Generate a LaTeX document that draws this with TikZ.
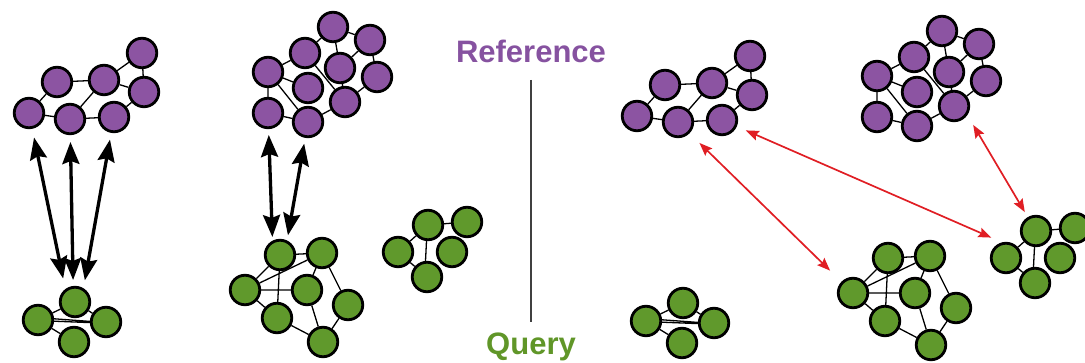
\documentclass[tikz,border=0pt]{standalone}
\usepackage{fontspec}
\setmainfont{Liberation Sans}
\usetikzlibrary{arrows.meta}

\definecolor{grape}{RGB}{140,84,162}
\definecolor{leaf}{RGB}{96,153,44}
\definecolor{titlepurple}{RGB}{134,82,160}
\definecolor{titlegreen}{RGB}{96,150,40}
\definecolor{linkred}{RGB}{224,30,36}

\tikzset{
  atom/.style={circle, draw=black, line width=2.8pt, minimum size=29.5pt, inner sep=0pt},
  refatom/.style={atom, fill=grape},
  qryatom/.style={atom, fill=leaf},
  bond/.style={line width=1.3pt, black},
  matchlink/.style={line width=3.3pt, black,
    {Stealth[length=22pt,width=17pt,inset=3pt]}-{Stealth[length=22pt,width=17pt,inset=3pt]}},
  pairlink/.style={line width=1.7pt, linkred,
    {Stealth[length=13pt,width=10pt,inset=2pt]}-{Stealth[length=13pt,width=10pt,inset=2pt]}},
  divider/.style={line width=1.3pt, black!75},
  heading/.style={font=\bfseries\fontsize{31}{31}\selectfont, inner sep=0pt, anchor=base},
}

% seven-atom purple molecule
\newcommand\purpleA[2]{%
  \begin{scope}[shift={#2}]
    \node[refatom] (#1a1) at (29,113) {};
    \node[refatom] (#1a2) at (70,119) {};
    \node[refatom] (#1a3) at (114,117) {};
    \node[refatom] (#1a4) at (57,82) {};
    \node[refatom] (#1a5) at (104,80) {};
    \node[refatom] (#1a6) at (142,53) {};
    \node[refatom] (#1a7) at (144,92) {};
  \end{scope}
  \draw[bond] (#1a1) -- (#1a4) (#1a1) -- (#1a2) (#1a2) -- (#1a3)
              (#1a4) -- (#1a5) (#1a2) -- (#1a5) (#1a5) -- (#1a6)
              (#1a5) -- (#1a7) (#1a3) -- (#1a7) (#1a6) -- (#1a7);
}

% ten-atom purple molecule
\newcommand\purpleB[2]{%
  \begin{scope}[shift={#2}]
    \node[refatom] (#1b1) at (333,27) {};
    \node[refatom] (#1b2) at (370,40) {};
    \node[refatom] (#1b3) at (305,53) {};
    \node[refatom] (#1b4) at (340,68) {};
    \node[refatom] (#1b5) at (377,77) {};
    \node[refatom] (#1b6) at (268,72) {};
    \node[refatom] (#1b7) at (308,88) {};
    \node[refatom] (#1b8) at (345,102) {};
    \node[refatom] (#1b9) at (268,113) {};
    \node[refatom] (#1b10) at (308,122) {};
  \end{scope}
  \draw[bond] (#1b1) -- (#1b2) (#1b1) -- (#1b3) (#1b1) -- (#1b4)
              (#1b2) -- (#1b4) (#1b2) -- (#1b5) (#1b3) -- (#1b6)
              (#1b3) -- (#1b8) (#1b6) -- (#1b7) (#1b6) -- (#1b9)
              (#1b6) -- (#1b10) (#1b9) -- (#1b10) (#1b10) -- (#1b8)
              (#1b4) -- (#1b8) (#1b5) -- (#1b8);
}

% four-atom green molecule
\newcommand\greenA[2]{%
  \begin{scope}[shift={#2}]
    \node[qryatom] (#1c1) at (75,302) {};
    \node[qryatom] (#1c2) at (38,320) {};
    \node[qryatom] (#1c3) at (106,322) {};
    \node[qryatom] (#1c4) at (74,342) {};
  \end{scope}
  \draw[bond] (#1c1) -- (#1c2) (#1c1) -- (#1c3) (#1c2) -- (#1c4)
              ([yshift=1.2pt]#1c2.east) -- ([yshift=0.6pt]#1c3.west)
              ([yshift=-1.2pt]#1c2.east) -- ([yshift=-0.6pt]#1c3.west);
}

% seven-atom green molecule
\newcommand\greenB[2]{%
  \begin{scope}[shift={#2}]
    \node[qryatom] (#1d1) at (280,255) {};
    \node[qryatom] (#1d2) at (322,253) {};
    \node[qryatom] (#1d3) at (245,290) {};
    \node[qryatom] (#1d4) at (307,290) {};
    \node[qryatom] (#1d5) at (348,305) {};
    \node[qryatom] (#1d6) at (277,318) {};
    \node[qryatom] (#1d7) at (323,342) {};
  \end{scope}
  \draw[bond] (#1d1) -- (#1d2) (#1d1) -- (#1d3) (#1d3) -- (#1d2)
              (#1d1) -- (#1d6) (#1d3) -- (#1d4) (#1d3) -- (#1d6)
              (#1d2) -- (#1d4) (#1d2) -- (#1d5) (#1d6) -- (#1d7)
              (#1d4) -- (#1d7) (#1d5) -- (#1d7);
}

% five-atom green molecule
\newcommand\greenC[2]{%
  \begin{scope}[shift={#2}]
    \node[qryatom] (#1e1) at (428,225) {};
    \node[qryatom] (#1e2) at (467,222) {};
    \node[qryatom] (#1e3) at (398,252) {};
    \node[qryatom] (#1e4) at (452,252) {};
    \node[qryatom] (#1e5) at (427,277) {};
  \end{scope}
  \draw[bond] (#1e1) -- (#1e2) (#1e3) -- (#1e1) (#1e3) -- (#1e5)
              ([xshift=-1.5pt]#1e1.south) -- ([xshift=-1.5pt]#1e5.north);
}

\begin{document}
\begin{tikzpicture}[x=1pt, y=-1pt]
  \useasboundingbox (0,0) rectangle (1085,363);

  % left panel
  \purpleA{L}{(0,0)}
  \purpleB{L}{(0,0)}
  \greenA{L}{(0,0)}
  \greenB{L}{(0,0)}
  \greenC{L}{(0,0)}

  % right panel
  \purpleA{R}{(608,3)}
  \purpleB{R}{(609,4)}
  \greenA{R}{(608,1)}
  \greenB{R}{(608,3)}
  \greenC{R}{(608,6)}

  % direct matches in the left panel
  \draw[matchlink, shorten <=25pt, shorten >=24pt] (La1.center) -- ([xshift=-7pt]Lc1.center);
  \draw[matchlink, shorten <=23pt, shorten >=22pt] (La2.center) -- ([xshift=-1.5pt]Lc1.center);
  \draw[matchlink, shorten <=23pt, shorten >=22pt] (La3.center) -- ([xshift=6pt]Lc1.center);
  \draw[matchlink, shorten <=22pt, shorten >=18pt] (Lb9.center) -- ([xshift=-7pt]Ld1.center);
  \draw[matchlink, shorten <=22pt, shorten >=20pt] (Lb10.center) -- ([xshift=4.5pt]Ld1.center);

  % pairings in the right panel
  \draw[pairlink, shorten <=30pt, shorten >=32pt] (Ra2.center) -- (Rd3.center);
  \draw[pairlink, shorten <=26pt, shorten >=16pt] (Ra3.center) -- ([yshift=14pt]Re3.center);
  \draw[pairlink, shorten <=22pt, shorten >=22pt] ([xshift=8pt]Rb8.center) -- (Re1.center);

  % divider and headings
  \coordinate (divtop) at (531,80);
  \coordinate (divbot) at (531,322);
  \draw[divider] (divtop) -- (divbot);
  \node[heading, text=titlepurple] (reftitle) at (531,63) {Reference};
  \node[heading, text=titlegreen] (qrytitle) at (531,355) {Query};
\end{tikzpicture}
\end{document}
